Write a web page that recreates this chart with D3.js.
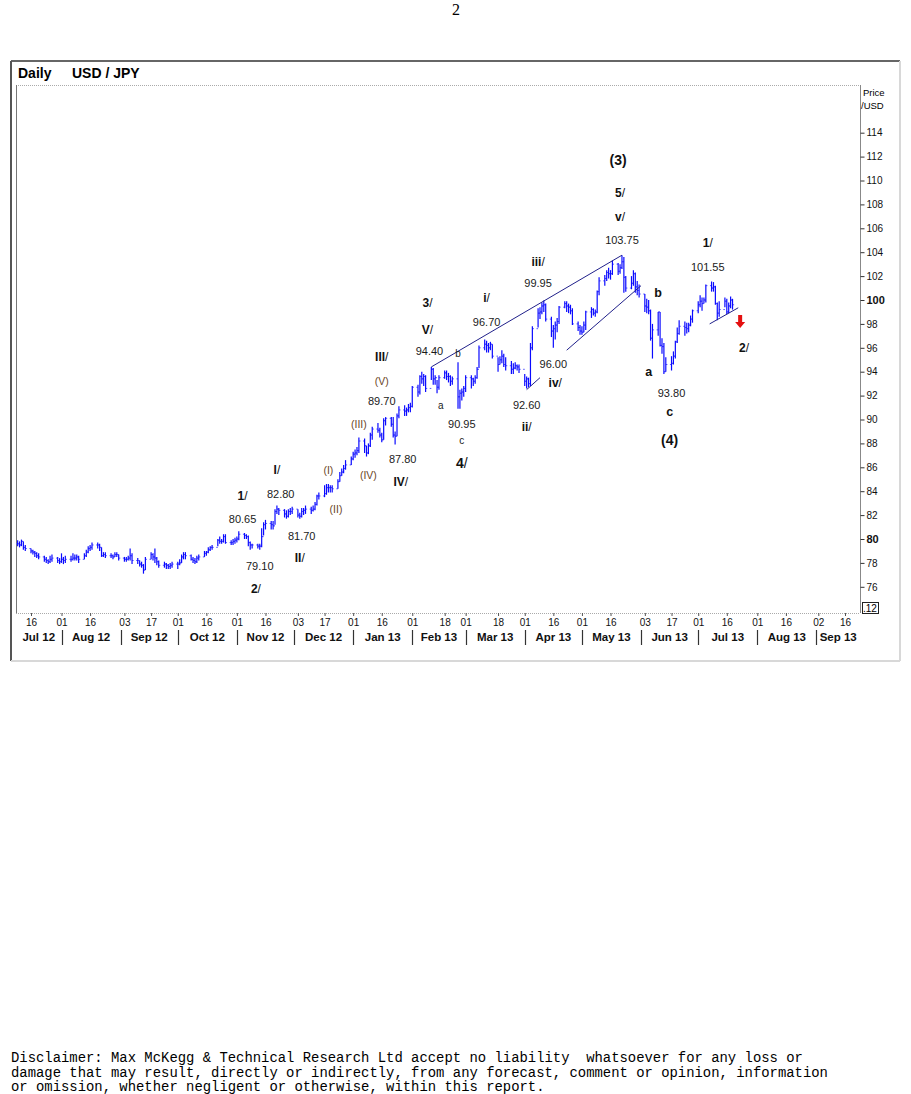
<!DOCTYPE html>
<html>
<head>
<meta charset="utf-8">
<script src="https://cdnjs.cloudflare.com/ajax/libs/d3/7.8.5/d3.min.js"></script>
<style>
  body { margin: 0; background: #fff; }
  svg text { font-family: "Liberation Sans", Arial, sans-serif; }
  .disclaimer { font-family: "Liberation Mono", "Courier New", monospace; font-size: 13.9px; white-space: pre; }
</style>
</head>
<body>
<svg id="chart" width="911" height="1094"></svg>
<script>
// daily USD/JPY bars, one row per week (Mon..Fri), starting Mon 9 Jul 2012
var firstDay = "2012-07-09";
var lastDay = "2013-07-19";

var highs = [
  79.9, 79.8, 79.95, 79.8, 79.5,   // Jul 09
  79.2, 79.1, 79.0, 78.9, 78.8,
  78.6, 78.5, 78.3, 78.6, 78.7,
  78.5, 78.4, 78.8, 78.5, 78.6,
  78.6, 78.8, 78.7, 78.7, 78.6,    // Aug 06
  78.8, 79.1, 79.4, 79.5, 79.7,
  79.7, 79.6, 79.3, 78.9, 78.9,
  78.8, 78.7, 78.9, 78.9, 78.7,
  78.5, 78.5, 78.6, 79.2, 78.8,    // Sep 03
  78.4, 78.2, 78.1, 77.9, 78.5,
  78.9, 78.8, 79.2, 78.5, 78.2,
  78.1, 78.0, 77.9, 78.0, 78.1,
  78.1, 78.3, 78.7, 78.9, 78.9,    // Oct 01
  78.7, 78.5, 78.4, 78.6, 78.7,
  79.0, 79.0, 79.3, 79.4, 79.5,
  80.0, 80.2, 80.0, 80.4, 80.4,
  79.9, 80.0, 80.1, 80.2, 80.65,
  80.5, 80.4, 80.3, 79.8, 79.6,    // Nov 05
  79.6, 79.6, 80.9, 81.4, 81.6,
  81.5, 81.5, 82.5, 82.8, 82.6,
  82.5, 82.4, 82.5, 82.6, 82.7,
  82.5, 82.2, 82.6, 82.6, 82.8,    // Dec 03
  82.7, 82.8, 83.1, 83.7, 83.9,
  84.5, 84.6, 84.6, 84.5, 84.5,
  85.0, 85.6, 85.9, 86.2, 86.6,
  86.9, 87.3, 87.5, 87.7, 88.5,    // Dec 31
  88.4, 87.8, 88.0, 88.9, 89.4,
  89.7, 89.3, 88.9, 90.1, 90.2,
  90.2, 90.2, 89.0, 90.5, 91.1,
  91.2, 91.0, 91.3, 91.4, 92.8,
  92.9, 93.7, 94.0, 93.8, 93.7,    // Feb 04
  94.4, 94.3, 93.7, 93.3, 93.7,
  94.1, 94.1, 93.9, 93.7, 93.6,
  94.8, 92.5, 92.6, 92.8, 93.7,
  93.7, 93.5, 93.7, 94.4, 96.2,    // Mar 04
  96.7, 96.6, 96.4, 96.5, 96.3,
  95.2, 95.3, 95.8, 95.5, 95.2,
  94.9, 94.7, 94.8, 94.6, 94.6,
  93.8, 93.6, 93.5, 96.4, 97.8,    // Apr 01
  99.3, 99.4, 99.8, 99.95, 99.7,
  98.6, 97.9, 98.2, 98.5, 99.5,
  99.9, 99.9, 99.7, 99.6, 99.3,
  98.2, 97.9, 97.8, 98.2, 99.1,
  99.4, 99.3, 99.2, 100.8, 101.9,  // May 06
  102.1, 102.5, 102.7, 102.5, 103.3,
  103.1, 103.0, 103.75, 103.6, 102.0,
  102.0, 102.5, 102.3, 101.6, 101.3,
  100.5, 100.1, 100.0, 99.2, 98.0, // Jun 03
  99.0, 99.0, 96.8, 96.4, 95.2,
  95.3, 95.7, 96.6, 97.7, 98.3,
  98.2, 98.1, 98.1, 98.7, 99.2,
  99.9, 100.4, 100.2, 100.2, 101.3, // Jul 01
  101.55, 101.5, 101.2, 99.8, 99.9,
  100.2, 100.1, 99.8, 100.3, 100.1
];

var lows = [
  79.4, 79.3, 79.4, 79.1, 79.0,
  78.8, 78.7, 78.5, 78.4, 78.3,
  78.1, 78.0, 77.9, 78.0, 78.1,
  78.0, 77.9, 78.0, 77.9, 78.0,
  78.1, 78.2, 78.2, 78.2, 78.0,
  78.3, 78.5, 78.8, 79.0, 79.1,
  79.2, 79.0, 78.5, 78.5, 78.4,
  78.4, 78.3, 78.5, 78.5, 78.2,
  78.1, 78.1, 78.2, 78.2, 77.9,
  77.9, 77.7, 77.6, 77.1, 77.4,
  78.3, 78.2, 78.0, 77.8, 77.6,
  77.6, 77.5, 77.5, 77.5, 77.6,
  77.5, 77.8, 78.0, 78.3, 78.3,
  78.2, 78.0, 77.9, 78.0, 78.2,
  78.5, 78.6, 78.8, 79.0, 79.1,
  79.4, 79.6, 79.6, 79.7, 79.6,
  79.5, 79.5, 79.6, 79.7, 79.9,
  80.0, 80.0, 79.4, 79.1, 79.2,
  79.2, 79.1, 79.3, 80.3, 80.8,
  80.8, 80.8, 81.2, 82.1, 82.0,
  81.8, 81.7, 81.8, 82.0, 82.1,
  81.8, 81.7, 81.8, 82.0, 82.1,
  82.1, 82.3, 82.4, 82.8, 83.3,
  83.5, 83.7, 83.9, 83.9, 83.9,
  84.2, 84.8, 85.3, 85.5, 85.8,
  86.2, 86.6, 86.8, 87.0, 87.2,
  87.2, 86.9, 87.1, 87.7, 88.3,
  88.9, 88.5, 88.1, 88.3, 89.5,
  89.4, 88.5, 87.9, 88.6, 90.1,
  90.3, 90.3, 90.6, 90.6, 91.0,
  91.9, 92.1, 93.0, 92.8, 92.3,
  93.3, 92.9, 92.9, 92.2, 92.5,
  93.4, 93.3, 93.1, 92.8, 92.9,
  90.9, 90.9, 91.6, 91.9, 92.3,
  92.6, 92.8, 93.0, 93.4, 94.3,
  95.8, 95.6, 95.6, 95.8, 95.1,
  94.0, 94.6, 94.7, 94.4, 94.1,
  93.8, 93.8, 94.2, 94.1, 93.9,
  92.8, 92.6, 92.7, 92.8, 95.8,
  97.7, 98.4, 98.8, 99.0, 98.2,
  96.9, 96.0, 96.7, 97.3, 98.0,
  99.3, 99.0, 98.9, 98.8, 97.9,
  97.4, 97.1, 97.1, 97.3, 97.5,
  98.5, 98.7, 98.6, 98.9, 100.4,
  101.2, 101.6, 101.8, 101.7, 102.1,
  102.1, 102.2, 102.6, 100.6, 100.7,
  100.9, 101.2, 100.6, 100.4, 100.2,
  99.0, 98.9, 98.8, 96.6, 95.1,
  97.0, 96.1, 95.5, 93.8, 94.0,
  94.1, 94.6, 95.1, 96.4, 97.1,
  97.0, 97.2, 97.3, 97.8, 98.1,
  98.9, 99.4, 99.1, 99.7, 99.8,
  100.7, 100.7, 99.6, 98.3, 98.6,
  99.4, 98.8, 98.9, 99.3, 99.2
];

var closes = [
  79.6, 79.5, 79.8, 79.3, 79.2,
  79.0, 78.9, 78.8, 78.6, 78.5,
  78.3, 78.2, 78.1, 78.3, 78.4,
  78.2, 78.1, 78.3, 78.2, 78.3,
  78.3, 78.4, 78.4, 78.5, 78.3,
  78.6, 78.9, 79.2, 79.3, 79.5,
  79.5, 79.3, 78.6, 78.7, 78.6,
  78.6, 78.5, 78.7, 78.7, 78.4,
  78.3, 78.3, 78.4, 78.6, 78.2,
  78.2, 77.9, 77.8, 77.4, 78.3,
  78.7, 78.5, 78.4, 78.1, 77.8,
  77.9, 77.8, 77.7, 77.8, 77.9,
  77.9, 78.0, 78.5, 78.7, 78.6,
  78.3, 78.2, 78.1, 78.4, 78.5,
  78.8, 78.9, 79.1, 79.3, 79.3,
  79.9, 79.8, 79.8, 80.2, 79.7,
  79.7, 79.8, 79.9, 80.0, 80.4,
  80.3, 80.2, 79.7, 79.5, 79.5,
  79.4, 79.4, 80.2, 81.2, 81.3,
  81.2, 81.1, 82.3, 82.5, 82.4,
  82.1, 81.9, 82.3, 82.3, 82.5,
  82.0, 81.9, 82.3, 82.4, 82.5,
  82.4, 82.5, 82.9, 83.6, 83.6,
  83.8, 84.3, 84.3, 84.3, 84.2,
  84.8, 85.3, 85.6, 85.9, 86.2,
  86.7, 87.1, 87.2, 87.4, 88.2,
  87.8, 87.2, 87.8, 88.7, 89.2,
  89.1, 88.7, 88.3, 89.9, 90.1,
  89.6, 88.7, 88.6, 90.3, 90.8,
  90.7, 90.8, 91.0, 91.1, 92.7,
  92.3, 93.6, 93.4, 93.6, 92.6,
  94.2, 93.4, 93.5, 92.7, 93.5,
  93.9, 93.6, 93.6, 93.2, 93.4,
  91.9, 92.2, 92.3, 92.6, 93.5,
  93.4, 93.2, 93.5, 94.2, 96.0,
  96.3, 96.2, 96.0, 96.3, 95.3,
  94.6, 95.0, 95.3, 94.6, 94.5,
  94.2, 94.3, 94.5, 94.4, 94.2,
  93.2, 93.4, 93.0, 96.0, 97.6,
  98.9, 99.0, 99.5, 99.6, 98.4,
  97.4, 97.6, 97.9, 98.2, 99.4,
  99.7, 99.5, 99.4, 99.1, 98.0,
  97.7, 97.4, 97.3, 97.9, 99.0,
  99.2, 98.9, 99.0, 100.7, 101.6,
  101.8, 102.3, 102.2, 102.2, 103.0,
  102.4, 102.7, 103.2, 101.9, 101.0,
  101.4, 102.2, 101.1, 100.8, 100.5,
  99.5, 99.4, 99.1, 96.8, 97.5,
  99.0, 96.2, 96.1, 94.0, 94.6,
  94.7, 95.3, 96.5, 97.2, 97.8,
  97.7, 97.6, 97.9, 98.4, 99.1,
  99.6, 99.9, 99.7, 100.0, 101.2,
  101.0, 101.1, 99.7, 98.9, 99.2,
  99.9, 99.0, 99.5, 100.0, 99.6
];

var priceTicks = d3.range(76, 115, 2);
var boldTicks = [80, 100];

var dayTicks = [
  "2012-07-16", "2012-08-01", "2012-08-16", "2012-09-03", "2012-09-17",
  "2012-10-01", "2012-10-16", "2012-11-01", "2012-11-16", "2012-12-03",
  "2012-12-17", "2013-01-01", "2013-01-16", "2013-02-01", "2013-02-18",
  "2013-03-01", "2013-03-18", "2013-04-01", "2013-04-16", "2013-05-01",
  "2013-05-16", "2013-06-03", "2013-06-17", "2013-07-01", "2013-07-16",
  "2013-08-01", "2013-08-16", "2013-09-02", "2013-09-16"
];

var monthStarts = [
  "2012-07-01", "2012-08-01", "2012-09-01", "2012-10-01", "2012-11-01",
  "2012-12-01", "2013-01-01", "2013-02-01", "2013-03-01", "2013-04-01",
  "2013-05-01", "2013-06-01", "2013-07-01", "2013-08-01", "2013-09-01",
  "2013-10-01"
];

var trendLines = [
  [["2013-02-11", 94.40], ["2013-05-22", 103.75]],
  [["2013-04-02", 92.5], ["2013-04-09", 93.5]],
  [["2013-04-23", 95.8], ["2013-06-01", 101.2]],
  [["2013-07-07", 98.0], ["2013-07-22", 99.35]]
];

// wave counts and price notes: [date, price, text, kind]
var labels = [
  ["2012-11-04", 83.60, "1/", "wave"],
  ["2012-11-04", 81.67, "80.65", "num"],
  ["2012-11-13", 77.74, "79.10", "num"],
  ["2012-11-11", 75.82, "2/", "wave"],
  ["2012-11-22", 85.77, "I/", "wave"],
  ["2012-11-24", 83.77, "82.80", "num"],
  ["2012-12-05", 80.25, "81.70", "num"],
  ["2012-12-04", 78.41, "II/", "wave"],
  ["2012-12-19", 85.77, "(I)", "paren"],
  ["2012-12-23", 82.51, "(II)", "paren"],
  ["2013-01-04", 89.62, "(III)", "paren"],
  ["2013-01-09", 85.36, "(IV)", "paren"],
  ["2013-01-16", 95.23, "III/", "wave"],
  ["2013-01-16", 93.22, "(V)", "paren"],
  ["2013-01-16", 91.55, "89.70", "num"],
  ["2013-01-27", 86.69, "87.80", "num"],
  ["2013-01-26", 84.77, "IV/", "wave"],
  ["2013-02-09", 99.75, "3/", "wave"],
  ["2013-02-09", 97.49, "V/", "wave"],
  ["2013-02-10", 95.73, "94.40", "num"],
  ["2013-02-25", 95.56, "b", "minor"],
  ["2013-02-16", 91.21, "a", "minor"],
  ["2013-02-27", 89.62, "90.95", "num"],
  ["2013-02-27", 88.28, "c", "minor"],
  ["2013-02-27", 86.36, "4/", "big"],
  ["2013-03-12", 100.17, "i/", "wave"],
  ["2013-03-12", 98.16, "96.70", "num"],
  ["2013-04-02", 91.21, "92.60", "num"],
  ["2013-04-02", 89.37, "ii/", "wave"],
  ["2013-04-08", 103.18, "iii/", "wave"],
  ["2013-04-08", 101.42, "99.95", "num"],
  ["2013-04-16", 94.64, "96.00", "num"],
  ["2013-04-17", 93.05, "iv/", "wave"],
  ["2013-05-20", 111.72, "(3)", "big"],
  ["2013-05-21", 108.95, "5/", "wave"],
  ["2013-05-21", 106.95, "v/", "wave"],
  ["2013-05-22", 105.02, "103.75", "num"],
  ["2013-06-10", 100.59, "b", "letter"],
  ["2013-06-05", 93.97, "a", "letter"],
  ["2013-06-17", 92.22, "93.80", "num"],
  ["2013-06-16", 90.63, "c", "letter"],
  ["2013-06-16", 88.28, "(4)", "big"],
  ["2013-07-06", 104.77, "1/", "wave"],
  ["2013-07-06", 102.76, "101.55", "num"],
  ["2013-07-25", 95.98, "2/", "wave"]
];

var arrowAt = ["2013-07-23", 98.16];

var disclaimer = [
  "Disclaimer: Max McKegg & Technical Research Ltd accept no liability  whatsoever for any loss or",
  "damage that may result, directly or indirectly, from any forecast, comment or opinion, information",
  "or omission, whether negligent or otherwise, within this report."
];

var parse = d3.timeParse("%Y-%m-%d");

var svg = d3.select("#chart");

var plot = { left: 16, top: 85, right: 860, bottom: 613 };

var x = d3.scaleTime()
  .domain([parse("2012-07-16"), parse("2013-09-16")])
  .range([31, 845]);

var y = d3.scaleLinear()
  .domain([80, 100])
  .range([539, 300]);

// page number
svg.append("text")
  .attr("x", 456)
  .attr("y", 15)
  .attr("text-anchor", "middle")
  .style("font-family", '"Liberation Serif", "Times New Roman", serif')
  .style("font-size", "16px")
  .text("2");

// outer frame
svg.append("line").attr("x1", 11).attr("x2", 900).attr("y1", 61).attr("y2", 61)
  .attr("stroke", "#666").attr("stroke-width", 2);
svg.append("line").attr("x1", 11).attr("x2", 11).attr("y1", 61).attr("y2", 661)
  .attr("stroke", "#555").attr("stroke-width", 2);
svg.append("line").attr("x1", 900).attr("x2", 900).attr("y1", 61).attr("y2", 661)
  .attr("stroke", "#d8d8d8").attr("stroke-width", 2);
svg.append("line").attr("x1", 11).attr("x2", 900).attr("y1", 661).attr("y2", 661)
  .attr("stroke", "#d8d8d8").attr("stroke-width", 2);

svg.append("text")
  .attr("x", 18)
  .attr("y", 78)
  .style("font-size", "14px")
  .style("font-weight", "bold")
  .text("Daily");
svg.append("text")
  .attr("x", 72)
  .attr("y", 78)
  .style("font-size", "14px")
  .style("font-weight", "bold")
  .text("USD / JPY");

// plot borders
svg.append("line").attr("x1", plot.left).attr("x2", plot.right).attr("y1", plot.top + 0.5).attr("y2", plot.top + 0.5)
  .attr("stroke", "#aaa").attr("stroke-dasharray", "1,1");
svg.append("line").attr("x1", plot.left).attr("x2", plot.right).attr("y1", plot.bottom + 0.5).attr("y2", plot.bottom + 0.5)
  .attr("stroke", "#aaa").attr("stroke-dasharray", "1,1");
svg.append("line").attr("x1", plot.left + 0.5).attr("x2", plot.left + 0.5).attr("y1", plot.top).attr("y2", plot.bottom)
  .attr("stroke", "#777");
svg.append("line").attr("x1", plot.right + 0.5).attr("x2", plot.right + 0.5).attr("y1", plot.top).attr("y2", plot.bottom)
  .attr("stroke", "#888");

// right price axis
var yAxis = d3.axisRight(y)
  .tickValues(priceTicks)
  .tickSize(4)
  .tickPadding(2)
  .tickFormat(d3.format("d"));

var yg = svg.append("g")
  .attr("transform", "translate(" + (plot.right + 0.5) + ",0)")
  .call(yAxis);
yg.select(".domain").remove();
yg.selectAll(".tick line").attr("stroke", "#333");
yg.selectAll(".tick text")
  .attr("fill", "#111")
  .style("font-weight", function (d) {
    return boldTicks.indexOf(d) >= 0 ? "bold" : "normal";
  })
  .style("font-size", function (d) {
    return boldTicks.indexOf(d) >= 0 ? "11px" : "10px";
  });

svg.append("text").attr("x", 863).attr("y", 96).style("font-size", "9.5px").text("Price");
svg.append("text").attr("x", 861).attr("y", 109).style("font-size", "9.5px").text("/USD");

svg.append("rect")
  .attr("x", 862.5).attr("y", 602.5).attr("width", 16).attr("height", 11)
  .attr("fill", "#fff").attr("stroke", "#222");
svg.append("text").attr("x", 863).attr("y", 612).style("font-size", "10px").text(".12");

// bottom date axis
var xAxis = d3.axisBottom(x)
  .tickValues(dayTicks.map(parse))
  .tickSize(3)
  .tickPadding(3)
  .tickFormat(d3.timeFormat("%d"));

var xg = svg.append("g")
  .attr("transform", "translate(0," + plot.bottom + ")")
  .call(xAxis);
xg.select(".domain").remove();
xg.selectAll(".tick line").attr("stroke", "#555");
xg.selectAll(".tick text").style("font-size", "10px").attr("fill", "#111");

var months = monthStarts.map(parse);
var monthFmt = d3.timeFormat("%b %y");

svg.selectAll(".month-sep")
  .data(months.slice(1, -1))
  .enter()
  .append("line")
  .attr("class", "month-sep")
  .attr("x1", function (d) { return Math.round(x(d)) + 0.5; })
  .attr("x2", function (d) { return Math.round(x(d)) + 0.5; })
  .attr("y1", 630)
  .attr("y2", 645)
  .attr("stroke", "#333")
  .attr("stroke-width", 1.2);

svg.selectAll(".month-label")
  .data(months.slice(0, -1))
  .enter()
  .append("text")
  .attr("class", "month-label")
  .attr("x", function (d, i) {
    var a = Math.max(plot.left, x(d));
    var b = Math.min(plot.right, x(months[i + 1]));
    return (a + b) / 2;
  })
  .attr("y", 641)
  .attr("text-anchor", "middle")
  .style("font-size", "11.5px")
  .style("font-weight", "bold")
  .attr("fill", "#111")
  .text(function (d) { return monthFmt(d); });

// OHLC bars
var tradingDays = d3.timeDay.range(parse(firstDay), d3.timeDay.offset(parse(lastDay), 1))
  .filter(function (d) { return d.getDay() > 0 && d.getDay() < 6; });

var bars = tradingDays.map(function (d, i) {
  return {
    date: d,
    open: i > 0 ? closes[i - 1] : closes[0],
    high: highs[i],
    low: lows[i],
    close: closes[i]
  };
});

var barColor = "#0a0aff";
var bg = svg.append("g").attr("class", "bars");

bg.selectAll(".op")
  .data(bars)
  .enter()
  .append("line")
  .attr("class", "op")
  .attr("x1", function (d) { return x(d.date) - 1.6; })
  .attr("x2", function (d) { return x(d.date); })
  .attr("y1", function (d) { return y(d.open); })
  .attr("y2", function (d) { return y(d.open); })
  .attr("stroke", "#5a5aff")
  .attr("stroke-width", 1);

bg.selectAll(".cl")
  .data(bars)
  .enter()
  .append("line")
  .attr("class", "cl")
  .attr("x1", function (d) { return x(d.date); })
  .attr("x2", function (d) { return x(d.date) + 1.6; })
  .attr("y1", function (d) { return y(d.close); })
  .attr("y2", function (d) { return y(d.close); })
  .attr("stroke", "#5a5aff")
  .attr("stroke-width", 1);

bg.selectAll(".hl")
  .data(bars)
  .enter()
  .append("line")
  .attr("class", "hl")
  .attr("x1", function (d) { return x(d.date); })
  .attr("x2", function (d) { return x(d.date); })
  .attr("y1", function (d) { return y(d.high); })
  .attr("y2", function (d) { return y(d.low); })
  .attr("stroke", barColor)
  .attr("stroke-width", 1.2);

// trend lines
svg.selectAll(".trend")
  .data(trendLines)
  .enter()
  .append("line")
  .attr("class", "trend")
  .attr("x1", function (d) { return x(parse(d[0][0])); })
  .attr("y1", function (d) { return y(d[0][1]); })
  .attr("x2", function (d) { return x(parse(d[1][0])); })
  .attr("y2", function (d) { return y(d[1][1]); })
  .attr("stroke", "#20208a")
  .attr("stroke-width", 1);

// annotations
var labelStyle = {
  num: { size: "11px", weight: "normal", color: "#1a1a1a" },
  wave: { size: "12px", weight: "bold", color: "#111" },
  big: { size: "14px", weight: "bold", color: "#111" },
  paren: { size: "10.5px", weight: "normal", color: "#6b4526" },
  minor: { size: "10px", weight: "normal", color: "#222" },
  letter: { size: "12.5px", weight: "bold", color: "#111" }
};

var lg = svg.append("g").attr("class", "labels");

labels.forEach(function (l) {
  var st = labelStyle[l[3]];
  var t = lg.append("text")
    .attr("x", x(parse(l[0])))
    .attr("y", y(l[1]))
    .attr("dy", "0.35em")
    .attr("text-anchor", "middle")
    .style("font-size", st.size)
    .attr("fill", st.color);
  var txt = l[2];
  if (txt.slice(-1) === "/" && st.weight === "bold") {
    t.append("tspan").style("font-weight", "bold").text(txt.slice(0, -1));
    t.append("tspan").style("font-weight", "normal").text("/");
  } else {
    t.style("font-weight", st.weight).text(txt);
  }
});

// red down arrow
var ax = x(parse(arrowAt[0])),
  ay = y(arrowAt[1]);
svg.append("path")
  .attr("d", "M" + (ax - 2) + "," + (ay - 7) + "H" + (ax + 2) + "V" + ay + "H" + (ax + 5) +
    "L" + ax + "," + (ay + 6) + "L" + (ax - 5) + "," + ay + "H" + (ax - 2) + "Z")
  .attr("fill", "#e41010");

// disclaimer
svg.selectAll(".disclaimer")
  .data(disclaimer)
  .enter()
  .append("text")
  .attr("class", "disclaimer")
  .attr("x", 11)
  .attr("y", function (d, i) { return 1062 + i * 14.5; })
  .text(function (d) { return d; });
</script>
</body>
</html>
